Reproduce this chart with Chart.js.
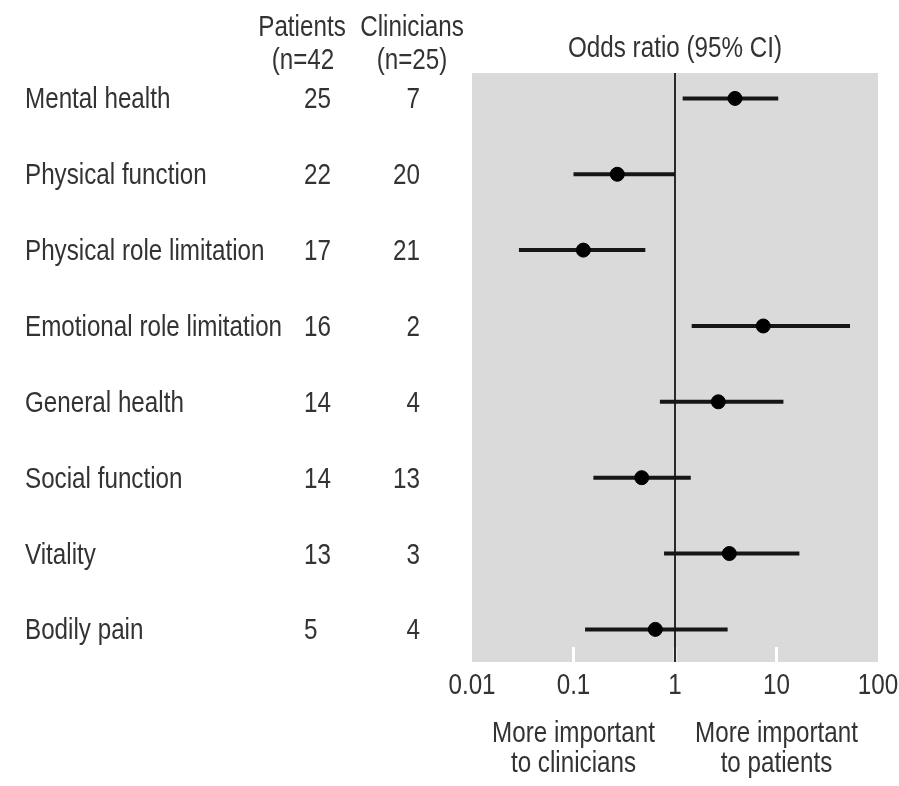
<!DOCTYPE html>
<html>
<head>
<meta charset="utf-8">
<title>Odds ratio forest plot</title>
<script src="https://cdn.jsdelivr.net/npm/chart.js@4/dist/chart.umd.min.js"></script>
<style>
  html, body { margin: 0; padding: 0; background: #ffffff; }
  #wrap { width: 899px; height: 786px; }
</style>
</head>
<body>
<div id="wrap"><canvas id="forest" width="899" height="786"></canvas></div>
<script>
// Domains, listed top to bottom
const rowLabels = [
  "Mental health",
  "Physical function",
  "Physical role limitation",
  "Emotional role limitation",
  "General health",
  "Social function",
  "Vitality",
  "Bodily pain"
];
const patientCounts = [25, 22, 17, 16, 14, 14, 13, 5];
const clinicianCounts = [7, 20, 21, 2, 4, 13, 3, 4];

// Odds ratios with 95% confidence limits
const oddsRatio = [3.9, 0.27, 0.125, 7.4, 2.67, 0.47, 3.43, 0.64];
const ciLower   = [1.19, 0.10, 0.029, 1.46, 0.71, 0.157, 0.78, 0.13];
const ciUpper   = [10.4, 1.0, 0.51, 53, 11.7, 1.43, 16.8, 3.3];

const xTickValues = [0.01, 0.1, 1, 10, 100];
const xTickLabels = ["0.01", "0.1", "1", "10", "100"];

const FONT = "29px 'Liberation Sans', Arial, sans-serif";
const NARROW = 0.835;         // horizontal squeeze giving a condensed face
const TEXT_COLOR = "#333333";
const Y_MIN = -0.335, Y_MAX = 7.43;

// condensed text: draw with the x axis squeezed around the anchor point
function narrowText(ctx, text, x, y, align) {
  ctx.save();
  ctx.translate(x, y);
  ctx.scale(NARROW, 1);
  ctx.textAlign = align;
  ctx.fillText(text, 0, 0);
  ctx.restore();
}

// one short line segment per domain for its confidence interval
const ciDatasets = rowLabels.map((label, i) => ({
  label: label + " CI",
  type: "scatter",
  showLine: true,
  data: [{ x: ciLower[i], y: i }, { x: ciUpper[i], y: i }],
  borderColor: "#161616",
  borderWidth: 4,
  pointRadius: 0,
  order: 2
}));

const panelPlugin = {
  id: "panel",
  beforeDraw(chart) {
    const { ctx, chartArea: a } = chart;
    ctx.save();
    ctx.fillStyle = "#dadada";
    ctx.fillRect(a.left, a.top, a.right - a.left, a.bottom - a.top);
    // short white tick marks rising from the panel's bottom edge
    const xs = chart.scales.x;
    ctx.strokeStyle = "#ffffff";
    ctx.lineWidth = 3;
    xTickValues.slice(1, -1).forEach(v => {
      const px = xs.getPixelForValue(v);
      ctx.beginPath();
      ctx.moveTo(px, a.bottom - 15);
      ctx.lineTo(px, a.bottom);
      ctx.stroke();
    });
    ctx.restore();
  },
  afterDraw(chart) {
    const { ctx } = chart;
    const xs = chart.scales.x, ys = chart.scales.y;
    ctx.save();
    ctx.fillStyle = TEXT_COLOR;
    ctx.font = FONT;
    ctx.textBaseline = "alphabetic";

    // column headers
    narrowText(ctx, "Patients", 302, 36, "center");
    narrowText(ctx, "(n=42", 303, 69, "center");
    narrowText(ctx, "Clinicians", 412, 36, "center");
    narrowText(ctx, "(n=25)", 412, 69, "center");
    narrowText(ctx, "Odds ratio (95% CI)", xs.getPixelForValue(1), 57, "center");

    // row labels and counts
    rowLabels.forEach((label, i) => {
      const py = ys.getPixelForValue(i) + 10;
      narrowText(ctx, label, 25, py, "left");
      narrowText(ctx, String(patientCounts[i]), 304, py, "left");
      narrowText(ctx, String(clinicianCounts[i]), 420, py, "right");
    });

    // axis tick labels at the scale's decade positions
    xs.ticks.forEach(t => {
      const k = xTickValues.indexOf(t.value);
      if (k >= 0) narrowText(ctx, xTickLabels[k], xs.getPixelForValue(t.value), 694, "center");
    });

    // direction captions under the axis
    const lx = xs.getPixelForValue(0.1), rx = xs.getPixelForValue(10);
    narrowText(ctx, "More important", lx, 742, "center");
    narrowText(ctx, "to clinicians", lx, 772, "center");
    narrowText(ctx, "More important", rx, 742, "center");
    narrowText(ctx, "to patients", rx, 772, "center");
    ctx.restore();
  }
};

new Chart(document.getElementById("forest"), {
  type: "scatter",
  data: {
    datasets: [
      {
        label: "No difference",
        type: "scatter",
        showLine: true,
        data: [{ x: 1, y: Y_MIN }, { x: 1, y: Y_MAX }],
        borderColor: "#2a2a2a",
        borderWidth: 2,
        pointRadius: 0,
        order: 3
      },
      ...ciDatasets,
      {
        label: "Odds ratio",
        data: oddsRatio.map((v, i) => ({ x: v, y: i })),
        backgroundColor: "#000000",
        borderColor: "#000000",
        pointRadius: 7,
        order: 1
      }
    ]
  },
  options: {
    responsive: false,
    animation: false,
    layout: { padding: { left: 472, right: 21, top: 73, bottom: 84 } },
    plugins: {
      legend: { display: false },
      tooltip: { enabled: false },
      title: { display: false }
    },
    scales: {
      x: {
        type: "logarithmic",
        min: 0.01,
        max: 100,
        afterBuildTicks(scale) {
          scale.ticks = xTickValues.map(v => ({ value: v }));
        },
        afterFit(scale) { scale.height = 40; },
        grid: { display: false, drawTicks: false },
        border: { display: false },
        ticks: { display: false }
      },
      y: {
        type: "linear",
        display: false,
        reverse: true,
        min: Y_MIN,
        max: Y_MAX
      }
    }
  },
  plugins: [panelPlugin]
});
</script>
</body>
</html>
